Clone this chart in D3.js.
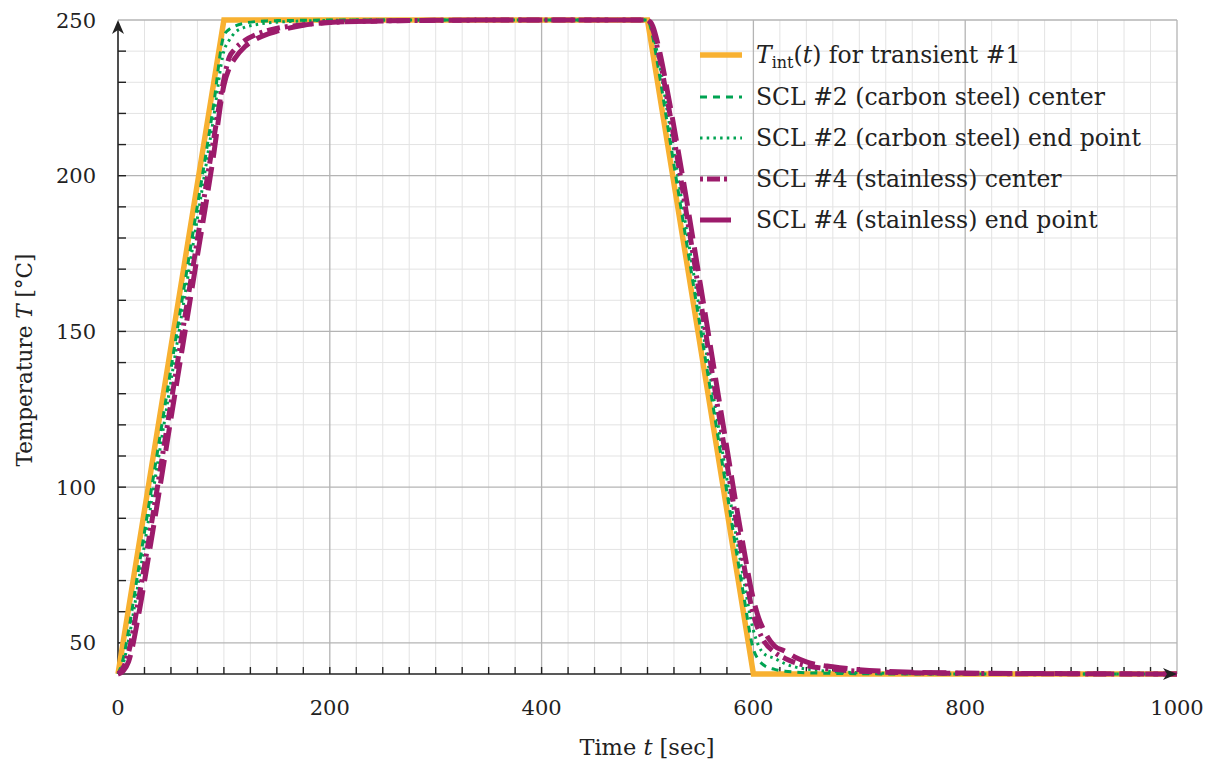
<!DOCTYPE html>
<html><head><meta charset="utf-8">
<script src="https://cdn.jsdelivr.net/npm/d3@7"></script>
<style>
html,body{margin:0;padding:0;background:#fff;}
</style></head>
<body><svg id="c" width="1214" height="770"></svg>
<script>
// ---- data ----
const intTime = [0, 100, 500, 600, 1000];
const intTemp = [40, 250, 250, 40, 40];
const respTime = [0,5,10,20,30,50,70,90,100,105,110,120,130,140,150,175,200,250,300,400,500,505,510,520,530,550,570,590,600,605,610,620,630,640,650,675,700,750,800,900,1000];
const cs2Center = [40,45,54,75,96,138,180,222,245,247,248,249,249.5,249.7,249.8,249.9,250,250,250,250,250,244.5,235,214,193,151,109,67,48,44.5,42.8,41.5,40.9,40.6,40.4,40.2,40.1,40,40,40,40];
const cs2End = [40,43.5,51,71,92,134,176,218,240,243.5,245.8,247.7,248.5,249,249.3,249.7,249.9,250,250,250,250,246,238,218,197,155,113,72,54,49,46.5,45,43.3,42.2,41.6,40.8,40.4,40.1,40,40,40];
const ss4Center = [40,42,47,65,85,127,169,211,231,238,240.5,243.5,245.3,246.5,247.3,248.5,249.2,249.7,249.9,250,250,247,240,222,202,160,118,77,59,54,50.5,47,45,43.6,42.7,41.5,40.9,40.4,40.2,40.05,40];
const ss4End = [40,41,44,60,80,122,164,206,229,234.5,237.5,241.5,243.8,245.3,246.4,248.3,249.2,249.7,249.9,250,250,248,242,225,206,165,123,82,64,58,54,49,47.3,45.3,43.9,42.3,41.4,40.6,40.3,40.1,40];
const xTicks = [0, 200, 400, 600, 800, 1000];
const yTicks = [50, 100, 150, 200, 250];
const legendLabels = ["for transient #1", "SCL #2 (carbon steel) center", "SCL #2 (carbon steel) end point", "SCL #4 (stainless) center", "SCL #4 (stainless) end point"];

// ---- layout ----
const svg = d3.select("#c");
const FONT = "DejaVu Serif";
const L = 118, R = 1177, T = 20, B = 674;
const x = d3.scaleLinear().domain([0, 1000]).range([L, R]);
const y = d3.scaleLinear().domain([40, 250]).range([B, T]);
const minorCol = "#e3e3e3", majorCol = "#b4b4b4", axisCol = "#222";

// minor grid
svg.append("g").selectAll("line").data(d3.range(25, 1000, 25).filter(v => v % 200 !== 0)).join("line")
  .attr("x1", d => x(d)).attr("x2", d => x(d)).attr("y1", T).attr("y2", B)
  .attr("stroke", minorCol).attr("stroke-width", 1);
svg.append("g").selectAll("line").data(d3.range(50, 250, 10).filter(v => v % 50 !== 0)).join("line")
  .attr("x1", L).attr("x2", R).attr("y1", d => y(d)).attr("y2", d => y(d))
  .attr("stroke", minorCol).attr("stroke-width", 1);
// major grid
svg.append("g").selectAll("line").data([200, 400, 600, 800, 1000]).join("line")
  .attr("x1", d => x(d)).attr("x2", d => x(d)).attr("y1", T).attr("y2", B)
  .attr("stroke", majorCol).attr("stroke-width", 1.3);
svg.append("g").selectAll("line").data(yTicks).join("line")
  .attr("x1", L).attr("x2", R).attr("y1", d => y(d)).attr("y2", d => y(d))
  .attr("stroke", majorCol).attr("stroke-width", 1.3);

// axis lines
svg.append("line").attr("x1", L).attr("x2", L).attr("y1", B).attr("y2", T + 6).attr("stroke", axisCol).attr("stroke-width", 1.6);
svg.append("line").attr("x1", L).attr("x2", R - 6).attr("y1", B).attr("y2", B).attr("stroke", axisCol).attr("stroke-width", 1.6);
// axis ticks
svg.append("g").selectAll("line").data(d3.range(50, 250, 10)).join("line")
  .attr("x1", L).attr("x2", L + 8).attr("y1", d => y(d)).attr("y2", d => y(d))
  .attr("stroke", axisCol).attr("stroke-width", 1.4);
svg.append("g").selectAll("line").data(d3.range(25, 1000, 25)).join("line")
  .attr("x1", d => x(d)).attr("x2", d => x(d)).attr("y1", B).attr("y2", B - 7)
  .attr("stroke", axisCol).attr("stroke-width", 1.4);

// data lines
const line = d3.line().x(d => x(d[0])).y(d => y(d[1])).curve(d3.curveMonotoneX);
const lin = d3.line().x(d => x(d[0])).y(d => y(d[1]));
const orange = "#F8B131", green = "#00A352", purple = "#9C1B6B";
const styles = [
  {c: orange, w: 5.5, dash: null},
  {c: green, w: 3, dash: "7,6"},
  {c: green, w: 3, dash: "2.5,4.2"},
  {c: purple, w: 5, dash: "13,5,3,5"},
  {c: purple, w: 5, dash: "24,9"}
];
svg.append("path").attr("d", lin(intTime.map((t, i) => [t, intTemp[i]])))
  .attr("fill", "none").attr("stroke", orange).attr("stroke-width", styles[0].w).attr("stroke-linejoin", "miter");
[cs2Center, cs2End, ss4Center, ss4End].forEach((arr, k) => {
  const s = styles[k + 1];
  svg.append("path").attr("d", line(respTime.map((t, i) => [t, arr[i]])))
    .attr("fill", "none").attr("stroke", s.c).attr("stroke-width", s.w)
    .attr("stroke-dasharray", s.dash);
});

// arrowheads
svg.append("path").attr("d", `M${L},${T} L${L - 6},${T + 14} L${L},${T + 10} L${L + 6},${T + 14} Z`).attr("fill", axisCol);
svg.append("path").attr("d", `M${R},${B} L${R - 14},${B - 6} L${R - 10},${B} L${R - 14},${B + 6} Z`).attr("fill", axisCol);

// tick labels
svg.append("g").selectAll("text").data(yTicks).join("text")
  .attr("font-family", FONT).attr("fill", "#222")
  .attr("x", 96).attr("y", d => y(d)).attr("dy", "0.36em").attr("text-anchor", "end")
  .attr("font-size", 21).text(d => d);
svg.append("g").selectAll("text").data(xTicks).join("text")
  .attr("font-family", FONT).attr("fill", "#222")
  .attr("x", d => x(d)).attr("y", 715).attr("text-anchor", "middle")
  .attr("font-size", 21).text(d => d);

// axis titles
const xt = svg.append("text").attr("font-family", FONT).attr("fill", "#222").attr("x", 647).attr("y", 755).attr("text-anchor", "middle").attr("font-size", 22.5);
xt.append("tspan").text("Time ");
xt.append("tspan").attr("font-style", "italic").text("t");
xt.append("tspan").text(" [sec]");
const yt = svg.append("text").attr("font-family", FONT).attr("fill", "#222").attr("transform", "translate(32,360) rotate(-90)").attr("text-anchor", "middle").attr("font-size", 21.5);
yt.append("tspan").text("Temperature ");
yt.append("tspan").attr("font-style", "italic").text("T");
yt.append("tspan").text(" [°C]");

// legend
const lg = svg.append("g");
const rowY = [55, 97, 138, 179, 220];
styles.forEach((s, i) => {
  lg.append("line").attr("x1", 700).attr("x2", 742).attr("y1", rowY[i]).attr("y2", rowY[i])
    .attr("stroke", s.c).attr("stroke-width", s.w).attr("stroke-dasharray", i === 4 ? "31,20" : (i === 3 ? "3,4,13,4,3,20" : s.dash));
  const t = lg.append("text").attr("font-family", FONT).attr("fill", "#222").attr("x", 756).attr("y", rowY[i]).attr("dy", "0.36em").attr("font-size", 23.5);
  if (i === 0) {
    t.append("tspan").attr("font-style", "italic").text("T");
    t.append("tspan").attr("font-size", 16).attr("dy", 5).text("int");
    t.append("tspan").attr("dy", -5).text("(");
    t.append("tspan").attr("font-style", "italic").text("t");
    t.append("tspan").text(") " + legendLabels[0]);
  } else {
    t.text(legendLabels[i]);
  }
});
</script></body></html>
